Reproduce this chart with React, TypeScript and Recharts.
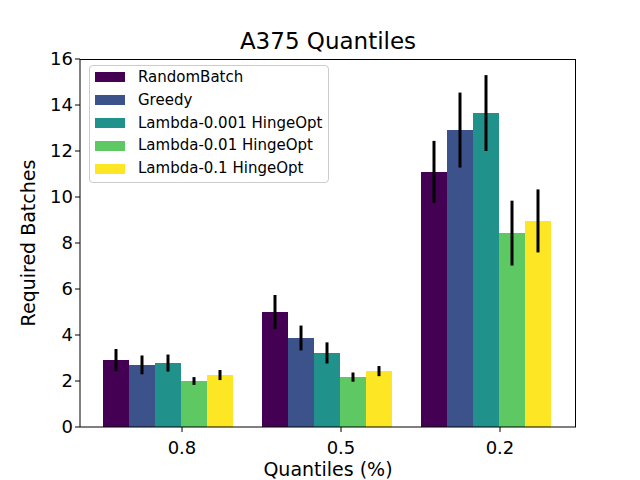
import { Bar, BarChart, ErrorBar, Label, Legend, XAxis, YAxis } from "recharts";

const quantiles = ["0.8", "0.5", "0.2"];
const seriesNames = [
  "RandomBatch",
  "Greedy",
  "Lambda-0.001 HingeOpt",
  "Lambda-0.01 HingeOpt",
  "Lambda-0.1 HingeOpt",
];
const colors = ["#440154", "#3b528b", "#21918c", "#5ec962", "#fde725"];

const randomBatch = [2.91, 5.0, 11.09];
const randomBatchErr = [0.48, 0.74, 1.35];
const greedy = [2.7, 3.87, 12.91];
const greedyErr = [0.41, 0.54, 1.63];
const lambda001 = [2.78, 3.22, 13.65];
const lambda001Err = [0.37, 0.46, 1.65];
const lambda01 = [2.0, 2.17, 8.43];
const lambda01Err = [0.17, 0.2, 1.41];
const lambda1 = [2.26, 2.43, 8.96];
const lambda1Err = [0.22, 0.22, 1.37];

const yTicks = [0, 2, 4, 6, 8, 10, 12, 14, 16];

const values = [randomBatch, greedy, lambda001, lambda01, lambda1];
const errors = [randomBatchErr, greedyErr, lambda001Err, lambda01Err, lambda1Err];

const data = quantiles.map((q, i) => {
  const row: Record<string, string | number> = { q };
  values.forEach((v, s) => {
    row[`s${s}`] = v[i];
    row[`e${s}`] = errors[s][i];
  });
  return row;
});

const FONT = "DejaVu Sans, sans-serif";

// matplotlib puts the tick between bar 3 and bar 4, half a bar right of the group centre
function QuantileTick({ x, y, payload }: any) {
  const dx = 13;
  return (
    <g>
      <line x1={x + dx} y1={y - 8} x2={x + dx} y2={y - 3} stroke="#000" strokeWidth={1} />
      <text x={x + dx} y={y + 19} textAnchor="middle" fontSize={18} fontFamily={FONT} fill="#000">
        {payload.value}
      </text>
    </g>
  );
}

function LegendBox() {
  return (
    <div
      style={{
        border: "1px solid #cccccc",
        borderRadius: 4,
        background: "rgba(255,255,255,0.8)",
        padding: "0 6px 2px 5px",
        fontFamily: FONT,
        fontSize: 15,
        lineHeight: "22.8px",
        color: "#000",
      }}
    >
      {seriesNames.map((name, i) => (
        <div key={name} style={{ display: "flex", alignItems: "center", whiteSpace: "nowrap" }}>
          <span style={{ display: "inline-block", width: 30, height: 10, background: colors[i], marginRight: 13 }} />
          {name}
        </div>
      ))}
    </div>
  );
}

export default function App() {
  return (
    <div style={{ position: "absolute", left: 0, top: 0, width: 640, height: 480, background: "#fff" }}>
      <div
        style={{
          position: "absolute",
          top: 30,
          left: 80,
          width: 496,
          textAlign: "center",
          fontFamily: FONT,
          fontSize: 23,
          lineHeight: "22px",
          color: "#000",
        }}
      >
        A375 Quantiles
      </div>
      <BarChart
        width={640}
        height={480}
        data={data}
        margin={{ top: 59, right: 64, bottom: 23, left: 20 }}
        barGap={0}
        barCategoryGap={13.5}
      >
        <XAxis
          dataKey="q"
          padding={{ left: 9.5, right: 9.5 }}
          height={30}
          tickLine={false}
          tick={<QuantileTick />}
          axisLine={{ stroke: "#000" }}
        >
          <Label value="Quantiles (%)" position="insideBottom" offset={-19} fontSize={19} fontFamily={FONT} fill="#000" />
        </XAxis>
        <YAxis
          domain={[0, 16]}
          ticks={yTicks}
          width={60}
          tickSize={5}
          tickLine={{ stroke: "#000" }}
          axisLine={{ stroke: "#000" }}
          tick={{ fontSize: 18, fontFamily: FONT, fill: "#000" }}
          interval={0}
        >
          <Label
            value="Required Batches"
            angle={-90}
            position="insideLeft"
            offset={8}
            style={{ textAnchor: "middle" }}
            fontSize={19}
            fontFamily={FONT}
            fill="#000"
          />
        </YAxis>
        <Legend
          layout="vertical"
          align="center"
          verticalAlign="middle"
          content={<LegendBox />}
          wrapperStyle={{ top: 65, left: 89, width: "auto", right: "auto", bottom: "auto" }}
        />
        {seriesNames.map((name, s) => (
          <Bar key={name} name={name} dataKey={`s${s}`} fill={colors[s]} isAnimationActive={false}>
            <ErrorBar dataKey={`e${s}`} width={0} stroke="#000" strokeWidth={3} direction="y" />
          </Bar>
        ))}
      </BarChart>
      {/* top and right spines of the axes frame */}
      <div
        style={{
          position: "absolute",
          left: 80,
          top: 59,
          width: 496,
          height: 368,
          borderTop: "1px solid #000",
          borderRight: "1px solid #000",
          boxSizing: "border-box",
          pointerEvents: "none",
        }}
      />
    </div>
  );
}
